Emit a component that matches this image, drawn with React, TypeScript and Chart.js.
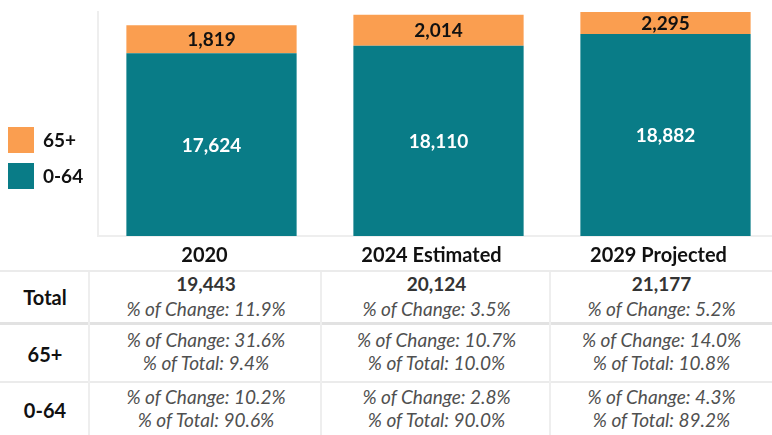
import React, { useEffect, useRef } from "react";
import { Chart, registerables } from "chart.js";
Chart.register(...registerables);

const categories = ["2020", "2024 Estimated", "2029 Projected"];
const age0to64 = [17624, 18110, 18882];
const age65plus = [1819, 2014, 2295];
const seriesLabels = ["0-64", "65+"];
const seriesColors = ["#097C87", "#FA9E50"];
const totalChange = [11.9, 3.5, 5.2];
const change65plus = [31.6, 10.7, 14.0];
const change0to64 = [10.2, 2.8, 4.3];
const rowHeaders = ["Total", "65+", "0-64"];
const yMin = 5800;
const yMax = 20300;

const FONT = "Lato, 'Open Sans', sans-serif";
const fmt = (n: number) => n.toLocaleString("en-US");
const pct = (n: number) => n.toFixed(1) + "%";

const totals = age0to64.map((v, i) => v + age65plus[i]);

const valueLabels = {
  id: "valueLabels",
  afterDatasetsDraw(chart: any) {
    const { ctx, chartArea } = chart;
    chart.data.datasets.forEach((ds: any, di: number) => {
      const meta = chart.getDatasetMeta(di);
      meta.data.forEach((bar: any, i: number) => {
        const top = Math.max(Math.min(bar.y, bar.base), chartArea.top);
        const bottom = Math.min(Math.max(bar.y, bar.base), chartArea.bottom);
        const cy = (top + bottom) / 2;
        ctx.save();
        ctx.font = `bold 19px ${FONT}`;
        ctx.fillStyle = di === 0 ? "#ffffff" : "#111111";
        ctx.textAlign = "center";
        ctx.textBaseline = "middle";
        ctx.fillText(fmt(ds.data[i]), bar.x, cy + 1);
        ctx.restore();
      });
    });
  },
};

const sideLegend = {
  id: "sideLegend",
  afterDraw(chart: any) {
    const { ctx } = chart;
    const ds = [...chart.data.datasets].reverse();
    ds.forEach((d: any, i: number) => {
      const y = 127 + i * 36;
      ctx.save();
      ctx.fillStyle = d.backgroundColor;
      ctx.fillRect(8, y, 26, 26);
      ctx.font = `bold 19px ${FONT}`;
      ctx.fillStyle = "#111111";
      ctx.textAlign = "left";
      ctx.textBaseline = "middle";
      ctx.fillText(d.label, 43, y + 14);
      ctx.restore();
    });
  },
};

function ChartCanvas() {
  const ref = useRef<HTMLCanvasElement | null>(null);
  useEffect(() => {
    if (!ref.current) return;
    const chart = new Chart(ref.current, {
      type: "bar",
      data: {
        labels: categories,
        datasets: [
          { label: seriesLabels[0], data: age0to64, backgroundColor: seriesColors[0] },
          { label: seriesLabels[1], data: age65plus, backgroundColor: seriesColors[1] },
        ],
      },
      options: {
        responsive: false,
        animation: false,
        devicePixelRatio: 1,
        layout: { padding: { left: 98, right: 2, top: 12, bottom: 0 } },
        datasets: { bar: { categoryPercentage: 1, barPercentage: 0.75 } },
        plugins: { legend: { display: false }, tooltip: { enabled: false } },
        scales: {
          x: {
            stacked: true,
            grid: { display: false },
            border: { display: true, color: "#eeeeee", width: 2 },
            ticks: { font: { family: FONT, size: 20, weight: "bold" }, color: "#111111", padding: 0, labelOffset: -7 },
            afterFit: (s: any) => { s.height = 34; },
          },
          y: {
            stacked: true,
            min: yMin,
            max: yMax,
            grid: { display: false },
            border: { display: true, color: "#eeeeee", width: 2 },
            ticks: { display: false },
            afterFit: (s: any) => { s.width = 0; },
          },
        },
      } as any,
      plugins: [valueLabels, sideLegend],
    });
    return () => chart.destroy();
  }, []);
  return <canvas ref={ref} width={781} height={270} style={{ position: "absolute", left: 0, top: 0, width: 781, height: 270 }} />;
}

const colEdges = [0, 90, 322, 551, 772];
const rowLines = [
  { top: 270, h: 2, c: "#ebebeb" },
  { top: 322, h: 3, c: "#e2e2e2" },
  { top: 381, h: 2, c: "#ebebeb" },
];
const vLines = [88, 320, 549];

function Line({ x0, x1, y, text, bold, italic, color, size }: any) {
  return (
    <div
      style={{
        position: "absolute",
        left: x0,
        width: x1 - x0,
        top: y - 12,
        height: 24,
        lineHeight: "24px",
        textAlign: "center",
        fontFamily: FONT,
        fontSize: size,
        fontWeight: bold ? 700 : 400,
        fontStyle: italic ? "italic" : "normal",
        color,
        whiteSpace: "nowrap",
      }}
    >
      {text}
    </div>
  );
}

export default function App() {
  const cells: any[] = [];
  const headerY = [297, 354, 410];
  rowHeaders.forEach((h, r) => {
    cells.push(<Line key={"h" + r} x0={colEdges[0]} x1={colEdges[1]} y={headerY[r]} text={h} bold color="#111" size={20} />);
  });
  categories.forEach((_, c) => {
    const x0 = colEdges[c + 1];
    const x1 = colEdges[c + 2];
    cells.push(<Line key={"t1" + c} x0={x0} x1={x1} y={284} text={fmt(totals[c])} bold color="#333" size={19} />);
    cells.push(<Line key={"t2" + c} x0={x0} x1={x1} y={309} text={"% of Change: " + pct(totalChange[c])} italic color="#505050" size={19} />);
    cells.push(<Line key={"a1" + c} x0={x0} x1={x1} y={340} text={"% of Change: " + pct(change65plus[c])} italic color="#505050" size={19} />);
    cells.push(<Line key={"a2" + c} x0={x0} x1={x1} y={363} text={"% of Total: " + pct((age65plus[c] / totals[c]) * 100)} italic color="#505050" size={19} />);
    cells.push(<Line key={"b1" + c} x0={x0} x1={x1} y={397} text={"% of Change: " + pct(change0to64[c])} italic color="#505050" size={19} />);
    cells.push(<Line key={"b2" + c} x0={x0} x1={x1} y={420} text={"% of Total: " + pct((age0to64[c] / totals[c]) * 100)} italic color="#505050" size={19} />);
  });
  return (
    <div style={{ position: "absolute", left: 0, top: 0, width: 772, height: 435, overflow: "hidden", background: "#fff" }}>
      <ChartCanvas />
      {rowLines.map((l, i) => (
        <div key={"r" + i} style={{ position: "absolute", left: 0, width: 772, top: l.top, height: l.h, background: l.c }} />
      ))}
      {vLines.map((x, i) => (
        <div key={"v" + i} style={{ position: "absolute", left: x, width: 2, top: 272, height: 163, background: "#eeeeee" }} />
      ))}
      {cells}
    </div>
  );
}
